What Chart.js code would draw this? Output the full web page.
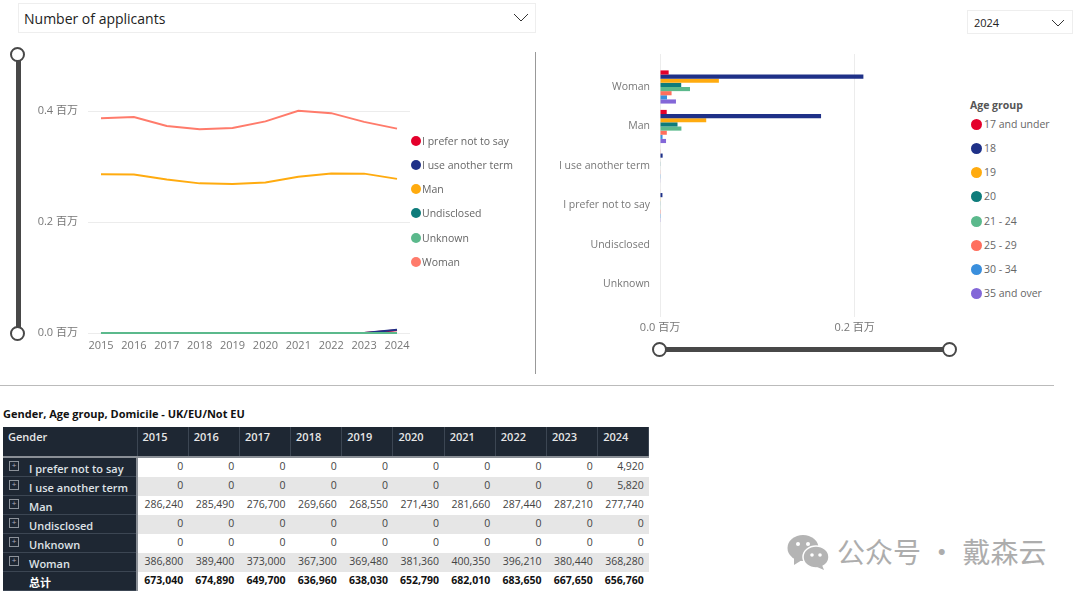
<!DOCTYPE html>
<html>
<head>
<meta charset="utf-8">
<title>Number of applicants</title>
<script src="https://cdn.jsdelivr.net/npm/chart.js@4"></script>
<style>
  html, body { margin: 0; padding: 0; background: #fff; }
  body { width: 1080px; height: 595px; position: relative; overflow: hidden;
         font-family: "Open Sans", "Noto Sans CJK SC", sans-serif; }
  .abs { position: absolute; }
  canvas { position: absolute; }
  .dropdown { border: 1px solid #eee; box-sizing: border-box; color: #222; }
  .legend-row { position: absolute; color: #666; font-size: 10.5px; line-height: 14px; white-space: nowrap; }
  .legend-dot { position: absolute; border-radius: 50%; }
  .handle { position: absolute; width: 11px; height: 11px; border: 2.5px solid #484848; border-radius: 50%; background: #fff; }
  table { position: absolute; left: 3px; top: 427px; width: 646px; border-collapse: collapse; table-layout: fixed;
          font-size: 10.5px; color: #444; }
  th { background: #1e2733; color: #e6e6e6; font-weight: 600; text-align: left; vertical-align: top;
       height: 30px; padding: 2px 0 0 5px; box-sizing: border-box; border-right: 1px solid #3c4653; border-bottom: 2px solid #8a8f96; font-size: 11px; }
  td { height: 19px; padding: 1px 5px 0 0; box-sizing: border-box; text-align: right; line-height: 15px; vertical-align: top; white-space: nowrap; }
  tr.shade td { background: #e6e6e6; }
  tr td.row-head { background: #1e2733; color: #dfe2e6; text-align: left; font-weight: 600; font-size: 11px; padding: 3px 0 0 26px;
                position: relative; border-bottom: 1px solid #3c4653; border-right: 2px solid #8a8f96; }
  td.row-head i { position: absolute; left: 6px; top: 3px; width: 8px; height: 8px; border: 1px solid #8d939b; color: #aab; font: 8px/8px sans-serif; text-align: center; }
  tr.total td { font-weight: 700; color: #111; }
  tr.total td.row-head { color: #fff; font-weight: 700; }
</style>
</head>
<body>

<div class="abs dropdown" style="left:18px;top:3px;width:518px;height:30px;font-size:14px;line-height:29px;padding-left:5px;">Number of applicants</div>
<svg class="abs" style="left:513px;top:13px" width="16" height="10"><path d="M1 1 L8 8 L15 1" fill="none" stroke="#333" stroke-width="1"/></svg>
<div class="abs dropdown" style="left:967px;top:10px;width:106px;height:24px;font-size:11px;line-height:23px;padding-left:6px;">2024</div>
<svg class="abs" style="left:1051px;top:19px" width="14" height="9"><path d="M1 1 L7 7 L13 1" fill="none" stroke="#333" stroke-width="1"/></svg>

<div class="abs" style="left:535px;top:52px;width:1px;height:322px;background:#999"></div>
<div class="abs" style="left:0;top:385px;width:1054px;height:1px;background:#bbb"></div>

<!-- range sliders -->
<div class="abs" style="left:15.5px;top:54px;width:5px;height:279px;background:#484848"></div>
<div class="handle" style="left:10px;top:47px"></div>
<div class="handle" style="left:10px;top:326px"></div>
<div class="abs" style="left:659px;top:347px;width:290px;height:5px;background:#484848"></div>
<div class="handle" style="left:651.5px;top:341.5px"></div>
<div class="handle" style="left:941.5px;top:341.5px"></div>

<canvas id="line-chart" width="535" height="380" style="left:0;top:0"></canvas>
<canvas id="bar-chart" width="425" height="345" style="left:536px;top:0"></canvas>
<div id="line-legend"></div>
<div id="bar-legend"></div>

<div class="abs" style="left:3px;top:406px;font-size:11px;font-weight:700;color:#111">Gender, Age group, Domicile - UK/EU/Not EU</div>
<table id="data-table"></table>

<!-- watermark -->
<svg class="abs" style="left:787px;top:533px" width="44" height="38">
  <ellipse cx="16" cy="15" rx="15.5" ry="13" fill="#b4b4b4"/>
  <path d="M7 24 L7 32 L15 27 Z" fill="#b4b4b4"/>
  <ellipse cx="29" cy="24" rx="13" ry="11" fill="#b4b4b4" stroke="#fff" stroke-width="1.5"/>
  <path d="M35 32 L37 37 L30 34 Z" fill="#b4b4b4"/>
  <circle cx="11" cy="11" r="2" fill="#fff"/><circle cx="21" cy="11" r="2" fill="#fff"/>
  <circle cx="25" cy="22" r="1.8" fill="#fff"/><circle cx="33" cy="22" r="1.8" fill="#fff"/>
</svg>
<div class="abs" style="left:837px;top:533px;font-size:28px;line-height:36px;word-spacing:0.5px;color:#adadad;white-space:nowrap;font-family:'Noto Sans CJK SC'">公众号 · 戴森云</div>

<script>
// line chart + table data
const years = [2015, 2016, 2017, 2018, 2019, 2020, 2021, 2022, 2023, 2024]
const genderLegend = ['I prefer not to say', 'I use another term', 'Man', 'Undisclosed', 'Unknown', 'Woman']
const preferNot = [0, 0, 0, 0, 0, 0, 0, 0, 0, 4920]
const anotherTerm = [0, 0, 0, 0, 0, 0, 0, 0, 0, 5820]
const man = [286240, 285490, 276700, 269660, 268550, 271430, 281660, 287440, 287210, 277740]
const undisclosed = [0, 0, 0, 0, 0, 0, 0, 0, 0, 0]
const unknown = [0, 0, 0, 0, 0, 0, 0, 0, 0, 0]
const woman = [386800, 389400, 373000, 367300, 369480, 381360, 400350, 396210, 380440, 368280]
const totals = [673040, 674890, 649700, 636960, 638030, 652790, 682010, 683650, 667650, 656760]
const genderSeries = [preferNot, anotherTerm, man, undisclosed, unknown, woman]
const genderColors = ['#e4002b', '#1f3188', '#ffab0f', '#0e7c7b', '#5bb98c', '#ff7b6b']

// bar chart data, 2024
const barGenders = ['Woman', 'Man', 'I use another term', 'I prefer not to say', 'Undisclosed', 'Unknown']
const ageGroups = ['17 and under', '18', '19', '20', '21 - 24', '25 - 29', '30 - 34', '35 and over']
const age17 = [8900, 6900, 600, 500, 0, 0]
const age18 = [209000, 165500, 2700, 2500, 0, 0]
const age19 = [60500, 47500, 500, 400, 0, 0]
const age20 = [21800, 18000, 400, 400, 0, 0]
const age21 = [30800, 22000, 500, 400, 0, 0]
const age25 = [11900, 7000, 400, 200, 0, 0]
const age30 = [7200, 2600, 300, 200, 0, 0]
const age35 = [16400, 6200, 420, 320, 0, 0]
const ageSeries = [age17, age18, age19, age20, age21, age25, age30, age35]
const ageColors = ['#e4002b', '#1f3188', '#ffab0f', '#0e7c7b', '#5bb98c', '#ff6f5e', '#3a8fdd', '#8367d8']

const lineTicks = [0, 200000, 400000]
const barTicks = [0, 200000]

const tickFont = { family: '"Open Sans", "Noto Sans CJK SC", sans-serif', size: 11 }
const millions = v => (v / 1000000).toFixed(1) + ' 百万'

new Chart(document.getElementById('line-chart'), {
  type: 'line',
  data: {
    datasets: genderLegend.map((name, i) => ({
      label: name,
      data: years.map((y, j) => ({ x: y, y: genderSeries[i][j] })),
      borderColor: genderColors[i],
      backgroundColor: genderColors[i],
      borderWidth: 2,
      pointRadius: 0,
      tension: 0,
      clip: false,
      order: genderLegend.length - i
    }))
  },
  options: {
    responsive: false,
    animation: false,
    layout: { padding: { top: 55, right: 125, bottom: 19, left: 0 } },
    plugins: { legend: { display: false }, tooltip: { enabled: false } },
    scales: {
      x: {
        type: 'linear',
        min: 2014.605,
        max: 2024.395,
        grid: { display: false, drawTicks: false },
        border: { display: false },
        afterBuildTicks: axis => { axis.ticks = years.map(value => ({ value })) },
        afterFit: axis => { axis.height = 28 },
        ticks: { font: tickFont, color: '#777', padding: 6, maxRotation: 0, autoSkip: false, callback: v => String(v) }
      },
      y: {
        min: 0,
        max: 501000,
        grid: { color: '#ececec', drawTicks: false },
        border: { display: false },
        afterBuildTicks: axis => { axis.ticks = lineTicks.map(value => ({ value })) },
        afterFit: axis => { axis.width = 88 },
        ticks: { font: tickFont, color: '#777', padding: 10, callback: millions }
      }
    }
  }
})

new Chart(document.getElementById('bar-chart'), {
  type: 'bar',
  data: {
    datasets: ageGroups.map((name, i) => ({
      label: name,
      data: barGenders.map((g, j) => ({ y: j, x: ageSeries[i][j] })),
      backgroundColor: ageColors[i],
      categoryPercentage: 0.84,
      barPercentage: 1
    }))
  },
  options: {
    indexAxis: 'y',
    responsive: false,
    animation: false,
    layout: { padding: { top: 54, right: 11, bottom: 0, left: 0 } },
    plugins: { legend: { display: false }, tooltip: { enabled: false } },
    scales: {
      y: {
        type: 'linear',
        offset: false,
        reverse: true,
        min: -0.835,
        max: 5.823,
        grid: { display: false, drawTicks: false },
        border: { display: false },
        afterBuildTicks: axis => { axis.ticks = barGenders.map((g, value) => ({ value })) },
        afterFit: axis => { axis.width = 124 },
        ticks: { font: { family: tickFont.family, size: 10.5 }, color: '#777', padding: 10, autoSkip: false, callback: v => barGenders[v] }
      },
      x: {
        min: 0,
        max: 298000,
        grid: { color: '#ececec', drawTicks: false },
        border: { display: false },
        afterBuildTicks: axis => { axis.ticks = barTicks.map(value => ({ value })) },
        afterFit: axis => { axis.height = 28 },
        ticks: { font: tickFont, color: '#777', padding: 4, maxRotation: 0, callback: millions }
      }
    }
  }
})

// html legends, chart.js legend box can't sit where the reference has it
const addLegend = (holderId, names, colors, dotX, textX, rowY, dotSize) => {
  const holder = document.getElementById(holderId)
  names.forEach((name, i) => {
    const dot = document.createElement('div')
    dot.className = 'legend-dot'
    dot.style.cssText = `left:${dotX - dotSize / 2}px;top:${rowY[i] - dotSize / 2}px;width:${dotSize}px;height:${dotSize}px;background:${colors[i]}`
    holder.appendChild(dot)
    const row = document.createElement('div')
    row.className = 'legend-row'
    row.style.left = textX + 'px'
    row.style.top = (rowY[i] - 7) + 'px'
    row.textContent = name
    holder.appendChild(row)
  })
}
addLegend('line-legend', genderLegend, genderColors, 416, 422, [141, 165, 189, 213, 238, 262], 10)
addLegend('bar-legend', ageGroups, ageColors, 976.5, 984, [124, 148, 172, 196, 221, 245, 269, 293], 11)
const ageTitle = document.createElement('div')
ageTitle.className = 'legend-row'
ageTitle.style.cssText = 'left:970px;top:98px;font-weight:700;color:#555'
ageTitle.textContent = 'Age group'
document.getElementById('bar-legend').appendChild(ageTitle)

// table
const fmt = v => v.toLocaleString('en-US')
let html = '<colgroup><col style="width:134px">' + years.map(() => '<col style="width:51.2px">').join('') + '</colgroup>'
html += '<tr><th>Gender</th>' + years.map(y => `<th>${y}</th>`).join('') + '</tr>'
genderLegend.forEach((name, i) => {
  html += `<tr class="${i % 2 ? 'shade' : ''}"><td class="row-head"><i>+</i>${name}</td>` + genderSeries[i].map(v => `<td>${fmt(v)}</td>`).join('') + '</tr>'
})
html += '<tr class="total"><td class="row-head">总计</td>' + totals.map(v => `<td>${fmt(v)}</td>`).join('') + '</tr>'
document.getElementById('data-table').innerHTML = html
</script>
</body>
</html>
